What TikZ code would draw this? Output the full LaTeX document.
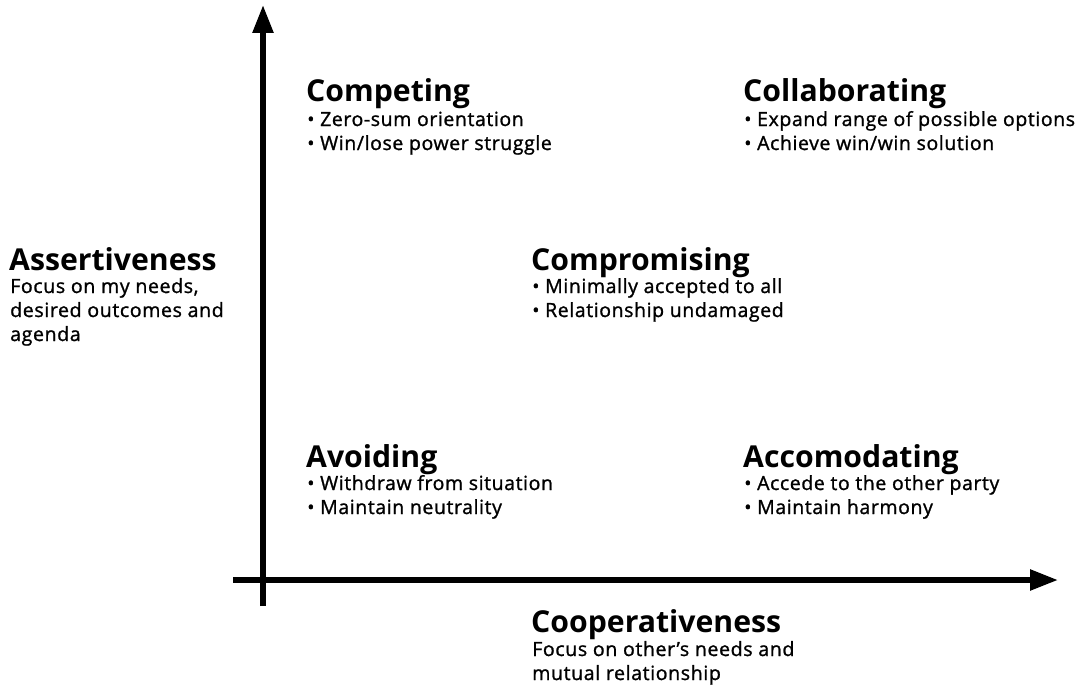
\documentclass[tikz,border=0pt]{standalone}
\usepackage{fontspec}
\setmainfont{Open Sans}
\newfontfamily\semib{Open Sans}[FakeBold=1.2,LetterSpace=3]
\usetikzlibrary{arrows.meta}
\tikzset{
  ttl/.style={anchor=base west, inner sep=0pt, font=\fontsize{30.2}{31}\selectfont\bfseries},
  bul/.style={anchor=base west, inner sep=0pt, font=\semib\fontsize{19.5}{24}\selectfont},
  sub/.style={anchor=base west, inner sep=0pt, font=\semib\fontsize{19.6}{24}\selectfont},
  axis/.style={line width=5.5pt, -{Triangle[width=20pt,length=28pt]}}
}
\begin{document}
\begin{tikzpicture}[x=1pt,y=-1pt]
\useasboundingbox (0,0) rectangle (1082,685);
\coordinate (o1) at (263,606);
\coordinate (yt) at (263,5);
\coordinate (o2) at (233,580);
\coordinate (xt) at (1058,580);
\draw[axis] (o1) -- (yt);
\draw[axis] (o2) -- (xt);
% Competing
\node[ttl] (comp) at (306,101) {Competing};
\node[bul] (comp1) at (307,126) {• Zero-sum orientation};
\node[bul] (comp2) at (307,150) {• Win/lose power struggle};
% Collaborating
\node[ttl] (coll) at (743,101) {Collaborating};
\node[bul] (coll1) at (744,126) {• Expand range of possible options};
\node[bul] (coll2) at (744,150) {• Achieve win/win solution};
% Assertiveness
\node[ttl] (ass) at (9,270) {Assertiveness};
\node[sub] (ass1) at (10,293) {Focus on my needs,};
\node[sub] (ass2) at (10,317) {desired outcomes and};
\node[sub] (ass3) at (10,341) {agenda};
% Compromising
\node[ttl] (cpr) at (531,270) {Compromising};
\node[bul] (cpr1) at (532,293) {• Minimally accepted to all};
\node[bul] (cpr2) at (532,317) {• Relationship undamaged};
% Avoiding
\node[ttl] (avo) at (306,467) {Avoiding};
\node[bul] (avo1) at (307,490) {• Withdraw from situation};
\node[bul] (avo2) at (307,514) {• Maintain neutrality};
% Accomodating
\node[ttl] (acc) at (743,467) {Accomodating};
\node[bul] (acc1) at (744,490) {• Accede to the other party};
\node[bul] (acc2) at (744,514) {• Maintain harmony};
% Cooperativeness
\node[ttl] (coo) at (531,632) {Cooperativeness};
\node[sub] (coo1) at (532,656) {Focus on other’s needs and};
\node[sub] (coo2) at (532,680) {mutual relationship};
\end{tikzpicture}
\end{document}
